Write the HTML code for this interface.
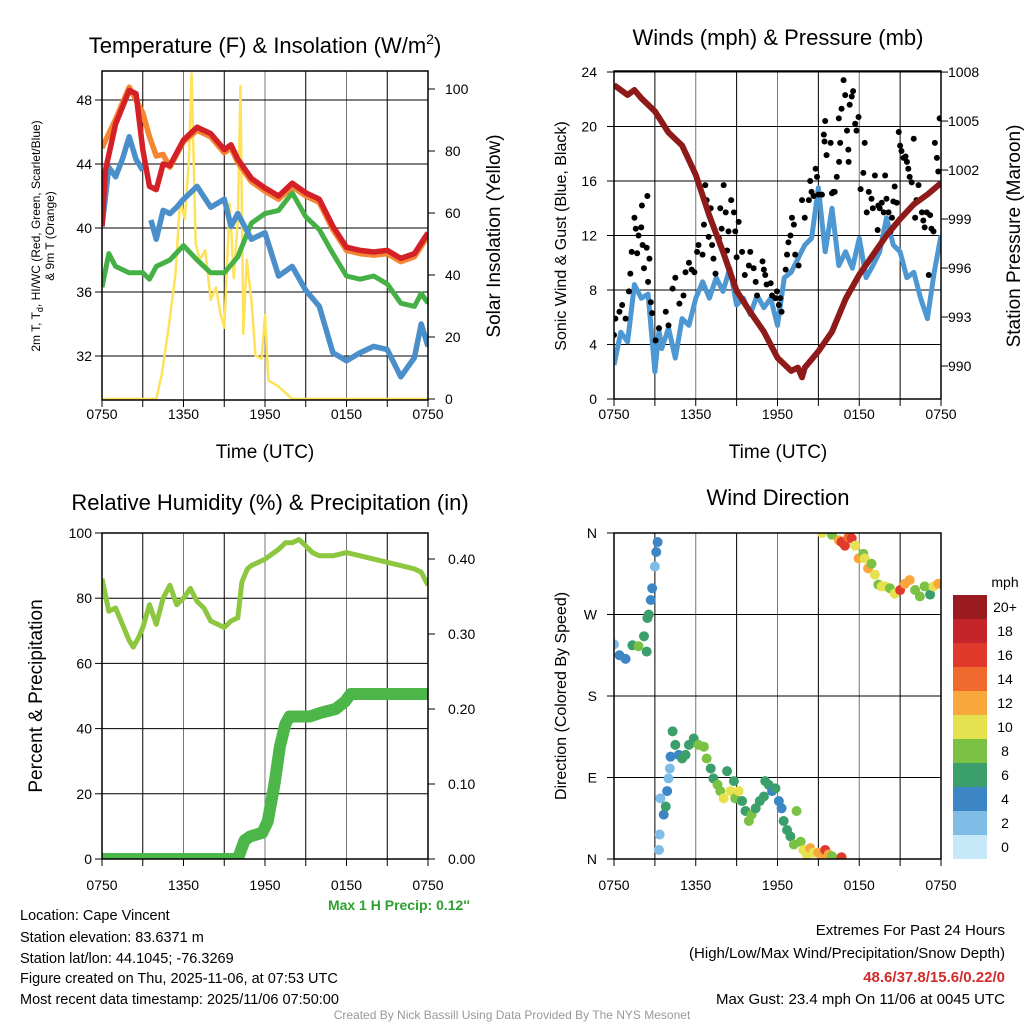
<!DOCTYPE html>
<html><head><meta charset="utf-8"><style>
body{margin:0;background:#fff}
svg{font-family:"Liberation Sans",sans-serif}
</style></head><body>
<svg id="s" width="1024" height="1024" viewBox="0 0 1024 1024" xmlns="http://www.w3.org/2000/svg">
<defs>
<clipPath id="c1"><rect x="102" y="71" width="326" height="329"/></clipPath>
<clipPath id="c2"><rect x="614" y="71" width="327" height="328"/></clipPath>
<clipPath id="c3"><rect x="102" y="533" width="326" height="326"/></clipPath>
<clipPath id="c4"><rect x="614" y="533" width="327" height="326"/></clipPath>
</defs>
<g id="texts">
<text x="265" y="53" font-size="22" text-anchor="middle">Temperature (F) &amp; Insolation (W/m<tspan font-size="14" dy="-9">2</tspan><tspan dy="9">)</tspan></text>
<text x="778" y="45" font-size="22" text-anchor="middle">Winds (mph) &amp; Pressure (mb)</text>
<text x="270" y="510" font-size="22" text-anchor="middle">Relative Humidity (%) &amp; Precipitation (in)</text>
<text x="778" y="505" font-size="22" text-anchor="middle">Wind Direction</text>
<text x="265" y="458" font-size="19" text-anchor="middle">Time (UTC)</text>
<text x="778" y="458" font-size="19" text-anchor="middle">Time (UTC)</text>
<text transform="translate(40,236) rotate(-90)" font-size="12" text-anchor="middle">2m T, T<tspan font-size="9" dy="3">d</tspan><tspan dy="-3">, HI/WC (Red, Green, Scarlet/Blue)</tspan></text>
<text transform="translate(54,236) rotate(-90)" font-size="12" text-anchor="middle">&amp; 9m T (Orange)</text>
<text transform="translate(500,236) rotate(-90)" font-size="19" text-anchor="middle">Solar Insolation (Yellow)</text>
<text transform="translate(566,236) rotate(-90)" font-size="16" text-anchor="middle">Sonic Wind &amp; Gust (Blue, Black)</text>
<text transform="translate(1020,236) rotate(-90)" font-size="19" text-anchor="middle">Station Pressure (Maroon)</text>
<text transform="translate(42,696) rotate(-90)" font-size="19" text-anchor="middle">Percent &amp; Precipitation</text>
<text transform="translate(566,696) rotate(-90)" font-size="16" text-anchor="middle">Direction (Colored By Speed)</text>
<text x="470" y="910" font-size="14" font-weight="bold" fill="#2ea02e" text-anchor="end">Max 1 H Precip: 0.12''</text>
<g font-size="14.5">
<text x="20" y="920">Location: Cape Vincent</text>
<text x="20" y="942">Station elevation: 83.6371 m</text>
<text x="20" y="963">Station lat/lon: 44.1045; -76.3269</text>
<text x="20" y="983">Figure created on Thu, 2025-11-06, at 07:53 UTC</text>
<text x="20" y="1004">Most recent data timestamp: 2025/11/06 07:50:00</text>
</g>
<g font-size="15" text-anchor="end">
<text x="1005" y="935">Extremes For Past 24 Hours</text>
<text x="1005" y="958">(High/Low/Max Wind/Precipitation/Snow Depth)</text>
<text x="1005" y="982" fill="#d42a2a" font-weight="bold">48.6/37.8/15.6/0.22/0</text>
<text x="1005" y="1004">Max Gust: 23.4 mph On 11/06 at 0045 UTC</text>
</g>
<text x="512" y="1019" font-size="12" fill="#999" text-anchor="middle">Created By Nick Bassill Using Data Provided By The NYS Mesonet</text>
<text x="1005" y="587" font-size="14" text-anchor="middle">mph</text>
</g>
</svg>
<script>
// ---- Panel 1 data ----
const redT=[0,0.25,1,2,2.5,3,3.5,4,4.5,5,6,7,8,9,9.5,10,11,12,13,14,15,16,17,18,19,20,21,22,23,24];
const redV=[40.1,43.6,46.5,48.6,48.4,44.9,42.6,42.4,44.0,43.9,45.5,46.3,45.9,44.9,45.2,44.3,43.1,42.5,42.0,42.8,42.2,41.8,40.1,38.8,38.6,38.5,38.6,38.1,38.4,39.7];
const orangeT=[0,1,2,3,3.5,4,4.5,5,6,7,8,9,9.5,10,11,12,13,14,15,16,17,18,19,20,21,22,23,24];
const orangeV=[45.0,46.8,48.8,47.2,45.7,44.5,44.6,43.8,45.4,46.1,45.7,44.7,45.0,44.1,42.9,42.3,41.8,42.6,42.0,41.6,39.9,38.6,38.4,38.3,38.4,37.9,38.2,39.5];
const blueT=[0,0.5,1,1.5,2,2.5,3,null,3.6,4,4.5,5,5.5,6,7,8,9,9.5,10,11,12,13,14,15,16,17,18,19,20,21,22,23,23.5,24];
const blueV=[40.1,43.8,43.2,44.3,45.7,44.3,43.6,null,40.5,39.3,41.1,40.9,41.3,41.8,42.6,41.3,41.8,40.1,40.9,39.3,39.7,37.0,37.6,36.1,35.1,32.2,31.7,32.2,32.6,32.4,30.7,31.9,34.0,32.6];
const greenT=[0,0.5,1,2,3,3.5,4,5,6,7,8,9,10,11,12,13,14,15,16,17,18,19,20,21,22,23,23.5,24];
const greenV=[36.3,38.4,37.6,37.2,37.2,36.8,37.6,38.0,38.9,38.0,37.2,37.2,38.2,40.3,40.9,41.1,42.2,40.7,39.9,38.4,37.0,36.8,37.0,36.5,35.3,35.1,35.9,35.3];
const solT=[0,4.0,4.4,4.9,5.4,5.75,6.1,6.4,6.6,6.9,7.2,7.6,8,8.4,8.7,9,9.4,9.7,10,10.2,10.4,10.65,11,11.3,11.75,12,12.25,13,14,24];
const solV=[0,0,8,23,40,64,58,77,105,50,45,48,32,36,28,23,63,39,58,101,21,45,32,14,13,27,6,4,0,0];
const tempTicks=[32,36,40,44,48];
const solTicks=[0,20,40,60,80,100];
const timeLabels=["0750","1350","1950","0150","0750"];
// ---- Panel 2 data ----
const presT=[0,1,1.5,2,3,4,5,6,7,8,9,10,11,12,13,13.5,13.8,14,15,16,17,18,19,20,21,22,23,24];
const presV=[1007.2,1006.6,1006.9,1006.4,1005.6,1004.3,1003.5,1001.7,999.2,997.0,994.6,993.3,992.1,990.5,989.7,989.9,989.3,989.9,990.9,992.1,994.1,995.6,996.8,998.0,999.0,999.9,1000.5,1001.2];
const windT=[0,0.5,1,1.5,2,2.5,3,3.3,3.5,4,4.5,5,5.5,6,6.5,7,7.5,8,8.5,9,9.5,10,10.5,11,11.5,12,12.5,13,13.5,14,14.5,15,15.5,16,16.5,17,17.5,18,18.5,19,19.5,20,20.5,21,21.5,22,22.5,23,23.5,24];
const windV=[2.5,4.9,4.2,8.4,7.4,7.7,2.0,5.0,3.7,5.2,3.0,5.9,5.4,7.4,8.6,7.4,8.9,7.9,9.6,6.9,7.4,6.2,7.6,6.7,7.4,5.4,8.9,9.3,10.3,11.3,11.8,15.5,10.8,14.0,9.8,10.8,9.6,11.8,8.9,9.8,10.8,13.3,11.3,10.8,8.9,9.3,7.4,5.9,9.3,12.0];
const gustT=[0,0.1,0.4,0.6,0.85,1.1,1.2,1.3,1.5,1.6,1.7,1.8,2.0,2.05,2.1,2.2,2.4,2.45,2.6,2.5,2.7,2.8,3.05,3.3,3.8,4.0,4.3,4.5,4.8,5.1,5.25,5.5,5.7,5.9,6.1,6.2,6.5,6.6,6.7,6.8,6.95,7.2,7.3,7.1,7.45,7.7,7.8,7.9,8.05,8.2,8.3,8.4,8.6,8.8,8.9,9.0,9.15,9.4,9.6,9.9,10.0,10.25,10.4,10.5,10.9,11.0,11.1,11.2,11.5,11.6,11.85,11.96,12.1,12.2,12.3,12.6,12.7,12.8,12.95,13.06,13.2,13.3,13.55,13.8,14.0,14.3,14.4,14.5,14.65,14.8,14.9,15.0,15.26,15.4,15.45,15.5,15.6,15.9,16.0,16.1,16.2,16.35,16.5,16.52,16.6,16.7,16.85,16.97,17.1,17.2,17.22,17.3,17.45,17.55,17.7,17.8,17.95,18.1,18.3,18.4,18.55,18.7,18.9,19.0,19.15,19.35,19.4,19.5,19.65,19.8,19.9,20.0,20.15,20.3,20.4,20.5,20.6,20.75,20.9,21.0,21.1,21.25,21.4,21.5,21.6,21.7,21.85,22.0,22.1,22.2,22.35,22.6,22.7,22.8,22.95,23.1,23.2,23.3,23.45,23.55,23.7,23.8,23.9];
const gustV=[4.7,5.9,6.4,6.9,5.9,7.9,9.2,10.8,13.3,12.5,10.7,12.0,12.6,14.2,11.3,9.6,11.1,14.9,10.3,8.6,7.1,6.3,4.3,5.2,6.4,5.4,8.1,8.9,7.0,7.6,9.3,10.0,9.5,9.3,10.8,11.3,10.6,12.8,15.7,14.6,11.9,11.3,10.3,14.0,9.2,11.8,14.0,12.5,15.7,13.7,10.9,12.3,14.6,13.7,12.3,10.4,13.0,10.8,9.1,9.8,10.8,9.6,8.6,7.6,10.1,9.5,9.1,8.4,8.5,7.6,7.4,7.9,6.9,7.4,6.4,9.5,10.6,11.5,12.0,13.3,12.8,10.6,9.8,14.6,13.3,14.6,16.0,15.2,14.9,16.9,16.3,15.0,15.0,19.4,18.9,20.4,17.9,18.8,15.1,15.2,15.2,16.3,20.6,17.4,18.8,21.3,23.4,22.3,19.7,18.3,17.4,21.6,22.2,22.6,20.2,19.7,20.7,15.4,16.6,18.8,13.7,15.2,14.7,14.0,16.4,12.4,14.2,14.0,14.4,13.7,16.4,14.7,13.7,12.3,13.3,14.5,15.6,14.4,19.6,18.6,18.2,17.7,17.8,17.4,16.9,16.3,15.9,19.1,13.3,14.6,15.7,13.7,13.1,12.6,13.7,9.1,13.5,12.5,12.3,18.8,17.7,16.7,20.6];
const windTicks=[0,4,8,12,16,20,24];
const presTicks=[990,993,996,999,1002,1005,1008];
// ---- Panel 3 data ----
const rhT=[0,0.3,0.5,1,1.5,2,2.3,2.7,3,3.5,4,4.5,5,5.5,6,6.5,7,7.5,8,8.5,9,9.5,10,10.3,10.7,11,12,13,13.5,14,14.5,15,15.5,16,17,18,19,20,21,22,23,23.5,24];
const rhV=[86,80,76,77,72,67,65,68,71,78,72,80,84,78,80,83,79,77,73,72,71,73,74,85,89,90,92,95,97,97,98,96,94,93,93,94,93,92,91,90,89,88,84];
const pcpT=[0,10.0,10.2,10.5,10.9,11.8,12.2,12.5,12.7,13.1,13.5,13.8,14.2,15.3,16.1,17.2,17.9,18.3,24];
const pcpV=[0,0,0.01,0.025,0.03,0.035,0.05,0.08,0.1,0.15,0.18,0.19,0.19,0.19,0.195,0.2,0.21,0.22,0.22];
const rhTicks=[0,20,40,60,80,100];
const pcpTicks=[0,0.1,0.2,0.3,0.4];
// ---- Panel 4 data ----
const dirT=[0,0.4,0.85,1.35,1.8,2.2,2.4,2.45,2.55,2.7,2.8,3.0,3.1,3.2,3.3,3.35,3.65,3.8,3.4,3.9,4.0,4.1,4.15,4.3,4.5,4.75,5.0,5.25,5.5,5.85,6.2,6.6,6.8,7.1,7.3,7.6,7.8,8.05,8.3,8.55,8.8,8.9,9.15,9.4,9.65,9.9,10.1,10.4,10.7,11.0,11.1,11.35,11.6,11.85,12.1,12.3,12.45,12.7,12.95,13.2,13.4,13.7,13.9,14.15,14.4,14.65,15.0,15.26,15.5,15.75,16.0,16.7,15.26,16.0,16.5,16.7,16.95,17.2,17.45,17.7,17.95,18.3,18.4,18.65,18.9,19.15,19.4,19.65,19.9,20.25,20.6,21.0,21.35,21.7,22.1,22.45,22.8,23.2,23.45,23.8];
const dirV=[237,225,221,236,235,246,229,266,270,286,299,323,339,350,10,27,49,58,67,75,89,100,113,141,126,115,111,115,126,133,126,124,111,100,89,82,75,67,97,75,86,67,75,64,53,42,49,56,64,69,86,82,75,78,64,56,42,32,25,16,53,19,10,5,12,7,7,3,10,5,3,2,360,358,352,350,346,355,354,346,332,337,332,321,326,314,303,301,301,299,293,297,304,308,297,290,301,292,301,304];
const dirSpd=[3,4,4,7,8,6,6,7,7,4,4,3,4,4,2,2,4,6,2,4,2,2,4,6,6,4,6,6,6,6,8,8,8,6,6,8,8,10,6,10,6,8,10,6,6,8,8,6,6,6,6,6,4,6,4,4,6,6,6,8,8,8,10,10,12,10,12,12,16,12,8,16,10,8,12,16,16,14,16,10,12,8,10,12,8,10,8,10,10,8,10,16,12,12,8,8,8,6,10,12];
const dirTicks=["N","E","S","W","N"];
const cbLabels=["0","2","4","6","8","10","12","14","16","18","20+"];
const cbColors=["#c6e8f8","#80bde6","#3d86c6","#3a9f6a","#7bc143","#e6e14e","#f8a73c","#ef6a2c","#e2392d","#c3252a","#9a1b1f"];

const NS="http://www.w3.org/2000/svg";
const svg=document.getElementById('s');
function mk(tag,attrs,parent){const e=document.createElementNS(NS,tag);for(const k in attrs)e.setAttribute(k,attrs[k]);(parent||svg).appendChild(e);return e;}
function pathFrom(T,V,fx,fy){let d="",pen=false;for(let i=0;i<T.length;i++){if(T[i]===null||V[i]===null){pen=false;continue;}d+=(pen?"L":"M")+fx(T[i]).toFixed(1)+","+fy(V[i]).toFixed(1);pen=true;}return d;}

function panel(x0,x1,y0,y1,id){
  const g=mk('g',{});
  
  
  for(let i=0;i<=8;i++){const x=x0+(x1-x0)*i/8;mk('line',{x1:x,x2:x,y1:y0,y2:y1,stroke:(i%2?'#000':'#777'),'stroke-width':1},g);
    mk('line',{x1:x,x2:x,y1:y1,y2:y1+7,stroke:'#000','stroke-width':1},g);}
  return g;
}
function hgrid(g,x0,x1,ys){ys.forEach(y=>mk('line',{x1:x0,x2:x1,y1:y,y2:y,stroke:'#000','stroke-width':1},g));}
function yticks(g,x,ys,dir){ys.forEach(y=>mk('line',{x1:x,x2:x+dir*7,y1:y,y2:y,stroke:'#000','stroke-width':1},g));}
function frame(x0,x1,y0,y1,id){const r=mk('rect',{x:x0,y:y0,width:x1-x0,height:y1-y0,fill:'none',stroke:'#000','stroke-width':1.5});}
function xlabels(x0,x1,y,id){timeLabels.forEach((l,i)=>{const t=mk('text',{x:x0+(x1-x0)*i/4,y:y,'font-size':14,'text-anchor':'middle'});t.textContent=l;});}
function label(x,y,txt,anchor,name){const t=mk('text',{x:x,y:y,'font-size':14,'text-anchor':anchor});t.textContent=txt;}

// ===== Panel 1 =====
{const X0=102,X1=428,Y0=71,Y1=400;
const fx=t=>X0+(X1-X0)*t/24, fy=v=>100+(48-v)*16, fs=v=>399-v*3.1;
const g=panel(X0,X1,Y0,Y1,'temp');hgrid(g,X0,X1,tempTicks.map(fy));
yticks(g,X0,tempTicks.map(fy),-1);yticks(g,X1,solTicks.map(fs),1);
tempTicks.forEach(v=>label(92,fy(v)+5,String(v),'end','temp-y-tick-label'));
solTicks.forEach(v=>label(445,fs(v)+5,String(v),'start','insolation-y-tick-label'));
const c=mk('g',{'clip-path':'url(#c1)'});


let p;
p=mk('path',{d:pathFrom(solT,solV,fx,fs),fill:'none',stroke:'#fde25a','stroke-width':2.5,'stroke-linejoin':'round'},c);

p=mk('path',{d:pathFrom(greenT,greenV,fx,fy),fill:'none',stroke:'#45b046','stroke-width':5,'stroke-linejoin':'round'},c);

p=mk('path',{d:pathFrom(blueT,blueV,fx,fy),fill:'none',stroke:'#4a8fca','stroke-width':5.5,'stroke-linejoin':'round'},c);

p=mk('path',{d:pathFrom(orangeT,orangeV,fx,fy),fill:'none',stroke:'#f58632','stroke-width':5.5,'stroke-linejoin':'round'},c);

p=mk('path',{d:pathFrom(redT,redV,fx,fy),fill:'none',stroke:'#d42027','stroke-width':5.5,'stroke-linejoin':'round'},c);

frame(X0,X1,Y0,Y1,'temp');xlabels(X0,X1,419,'temp');}

// ===== Panel 2 =====
{const X0=614,X1=941,Y0=71,Y1=399;
const fx=t=>X0+(X1-X0)*t/24, fy=v=>399-v*13.625, fp=v=>366-(v-990)*16.33;
const g=panel(X0,X1,Y0,Y1,'wind');hgrid(g,X0,X1,windTicks.map(fy));
yticks(g,X0,windTicks.map(fy),-1);yticks(g,X1,presTicks.map(fp),1);
windTicks.forEach(v=>label(597,fy(v)+5,String(v),'end','wind-y-tick-label'));
presTicks.forEach(v=>label(948,fp(v)+5,String(v),'start','pressure-y-tick-label'));
const c=mk('g',{'clip-path':'url(#c2)'});


let p=mk('path',{d:pathFrom(windT,windV,fx,fy),fill:'none',stroke:'#4d97d2','stroke-width':5,'stroke-linejoin':'round'},c);

for(let i=0;i<gustT.length;i++){const d=mk('circle',{cx:fx(gustT[i]),cy:fy(gustV[i]),r:3,fill:'#000'},c);

}
p=mk('path',{d:pathFrom(presT,presV,fx,fp),fill:'none',stroke:'#8e1a1a','stroke-width':6,'stroke-linejoin':'round'},c);

frame(X0,X1,Y0,Y1,'wind');xlabels(X0,X1,419,'wind');}

// ===== Panel 3 =====
{const X0=102,X1=428,Y0=533,Y1=859;
const fx=t=>X0+(X1-X0)*t/24, fy=v=>859-v*3.26, fp=v=>859-v*750;
const g=panel(X0,X1,Y0,Y1,'rh');hgrid(g,X0,X1,rhTicks.map(fy));
yticks(g,X0,rhTicks.map(fy),-1);yticks(g,X1,pcpTicks.map(fp),1);
rhTicks.forEach(v=>label(92,fy(v)+5,String(v),'end','rh-y-tick-label'));
pcpTicks.forEach(v=>label(448,fp(v)+5,v.toFixed(2),'start','precip-y-tick-label'));
const c=mk('g',{'clip-path':'url(#c3)'});


let p=mk('path',{d:pathFrom(rhT,rhV,fx,fy),fill:'none',stroke:'#8dc63f','stroke-width':5,'stroke-linejoin':'round'},c);

p=mk('path',{d:pathFrom(pcpT,pcpV,fx,fp),fill:'none',stroke:'#4cb648','stroke-width':12,'stroke-linejoin':'round','stroke-linecap':'round'},c);

frame(X0,X1,Y0,Y1,'rh');xlabels(X0,X1,890,'rh');}

// ===== Panel 4 =====
{const X0=614,X1=941,Y0=533,Y1=859;
const fx=t=>X0+(X1-X0)*t/24, fy=v=>859-v*326/360;
const g=panel(X0,X1,Y0,Y1,'dir');hgrid(g,X0,X1,[0,90,180,270,360].map(fy));
yticks(g,X0,[0,90,180,270,360].map(fy),-1);
dirTicks.forEach((l,i)=>label(597,fy(i*90)+5,l,'end','direction-y-tick-label'));
const c=mk('g',{'clip-path':'url(#c4)'});


for(let i=0;i<dirT.length;i++){const k=Math.min(10,Math.floor(dirSpd[i]/2));
const d=mk('circle',{cx:fx(dirT[i]),cy:fy(dirV[i]),r:5,fill:cbColors[k]},c);

}
frame(X0,X1,Y0,Y1,'dir');xlabels(X0,X1,890,'dir');
for(let i=0;i<cbLabels.length;i++){const y=859-(i+1)*24;
const r=mk('rect',{x:953,y:y,width:34,height:24,fill:cbColors[i]});


label(1005,y+17,cbLabels[i],'middle','colorbar-label');}}
</script>
</body></html>
